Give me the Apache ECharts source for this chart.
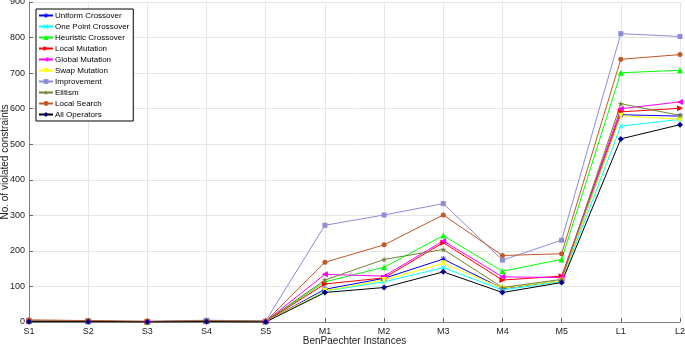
<!DOCTYPE html>
<html>
<head>
<meta charset="utf-8">
<script src="https://cdn.jsdelivr.net/npm/echarts@6/dist/echarts.min.js"></script>
<style>
  html, body { margin: 0; padding: 0; background: #fff; }
  #chart-container { width: 685px; height: 347px; }
</style>
</head>
<body>
<div id="chart-container"></div>
<script>
var categories = ["S1", "S2", "S3", "S4", "S5", "M1", "M2", "M3", "M4", "M5", "L1", "L2"];
var yTicks = [0, 100, 200, 300, 400, 500, 600, 700, 800, 900];

var uniformCrossover = [2, 2, 1, 2, 1, 92, 123, 177, 94, 116, 583, 579];
var onePointCrossover = [2, 2, 1, 2, 1, 87, 113, 153, 90, 114, 551, 570];
var heuristicCrossover = [3, 2, 1, 3, 2, 113, 154, 243, 143, 176, 701, 708];
var localMutation = [3, 2, 1, 2, 1, 107, 124, 223, 118, 129, 591, 601];
var globalMutation = [3, 2, 1, 3, 2, 134, 129, 228, 127, 125, 600, 619];
var swapMutation = [2, 2, 1, 2, 1, 88, 118, 165, 95, 116, 580, 570];
var improvement = [4, 3, 2, 5, 3, 272, 301, 333, 174, 230, 811, 803];
var elitism = [3, 2, 1, 3, 2, 118, 176, 204, 97, 120, 614, 581];
var localSearch = [6, 4, 2, 3, 2, 168, 217, 301, 187, 192, 739, 752];
var allOperators = [1, 1, 0, 1, 0, 83, 97, 141, 83, 111, 515, 555];

var dom = document.getElementById("chart-container");
var myChart = echarts.init(dom, null, { renderer: "canvas" });

// marker shapes
var asterisk = "path://M4.3,0H5.7V4.3H10V5.7H5.7V10H4.3V5.7H0V4.3H4.3Z" +
  "M1.5,0.8L5,4.3L8.5,0.8L9.2,1.5L5.7,5L9.2,8.5L8.5,9.2L5,5.7L1.5,9.2L0.8,8.5L4.3,5L0.8,1.5Z";
var cross = "path://M1.5,0.5L5,4L8.5,0.5L9.5,1.5L6,5L9.5,8.5L8.5,9.5L5,6L1.5,9.5L0.5,8.5L4,5L0.5,1.5Z";
var star = "path://M5,0L6.2,3.6L10,3.6L6.9,5.9L8.1,9.5L5,7.3L1.9,9.5L3.1,5.9L0,3.6L3.8,3.6Z";

function line(name, data, color, symbol, rotate, size, markerColor) {
  return {
    name: name,
    type: "line",
    data: data,
    symbol: symbol,
    symbolRotate: rotate,
    symbolSize: size,
    lineStyle: { color: color, width: 1 },
    itemStyle: { color: markerColor || color },
    emphasis: { disabled: true },
  };
}

var font = "Liberation Sans, Arial";

var option = {
  animation: false,
  grid: { left: 29, right: 5, top: 2, bottom: 25, outerBoundsMode: "none", containLabel: false },
  legend: {
    orient: "vertical",
    left: 36,
    top: 9,
    backgroundColor: "#fff",
    borderColor: "#000",
    borderWidth: 1,
    borderRadius: 0,
    padding: [2, 4, 2, 2],
    itemWidth: 14,
    itemHeight: 6,
    itemGap: 2,
    textStyle: { fontFamily: font, fontSize: 8, color: "#000", padding: [0, 0, 0, -3], lineHeight: 9 },
  },
  xAxis: {
    type: "category",
    data: categories,
    boundaryGap: false,
    name: "BenPaechter Instances",
    nameLocation: "middle",
    nameGap: 14,
    nameMoveOverlap: false,
    nameTextStyle: { fontFamily: font, fontSize: 10, color: "#222" },
    axisLine: { lineStyle: { color: "#808080" } },
    axisTick: { inside: true, length: 4, lineStyle: { color: "#666" } },
    axisLabel: { fontFamily: font, fontSize: 9, color: "#222", margin: 5 },
    splitLine: { show: true, lineStyle: { color: "#e6e6e6" } },
  },
  yAxis: {
    type: "value",
    min: 0,
    max: 900,
    interval: 100,
    name: "No. of violated constraints",
    nameLocation: "middle",
    nameGap: 19,
    nameMoveOverlap: false,
    nameTextStyle: { fontFamily: font, fontSize: 10, color: "#222" },
    axisLine: { show: true, lineStyle: { color: "#808080" } },
    axisTick: { show: true, inside: true, length: 4, lineStyle: { color: "#666" } },
    axisLabel: {
      fontFamily: font,
      fontSize: 9,
      color: "#222",
      margin: 4,
      formatter: function (v) { return yTicks.indexOf(v) >= 0 ? String(v) : ""; },
    },
    splitLine: { show: true, lineStyle: { color: "#e6e6e6" } },
  },
  series: [
    line("Uniform Crossover", uniformCrossover, "#0000ff", asterisk, 0, 6),
    line("One Point Crossover", onePointCrossover, "#00ffff", cross, 0, 5),
    line("Heuristic Crossover", heuristicCrossover, "#00ff00", "triangle", 0, 6),
    line("Local Mutation", localMutation, "#ff0000", "triangle", -90, 6),
    line("Global Mutation", globalMutation, "#ff00ff", "triangle", 90, 6),
    line("Swap Mutation", swapMutation, "#ffff00", "triangle", 180, 6),
    line("Improvement", improvement, "#8c8cd9", "rect", 0, 5),
    line("Elitism", elitism, "#718234", star, 0, 6),
    line("Local Search", localSearch, "#c0582a", "circle", 0, 5),
    line("All Operators", allOperators, "#000000", "diamond", 0, 6, "#00008b"),
  ],
};

myChart.setOption(option);
</script>
</body>
</html>
